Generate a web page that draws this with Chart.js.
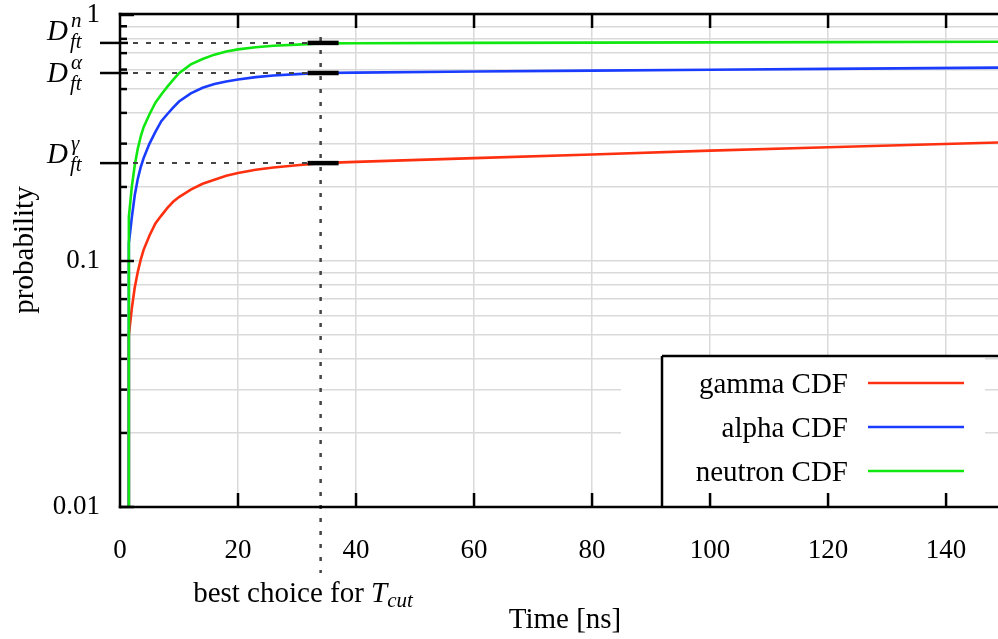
<!DOCTYPE html>
<html>
<head>
<meta charset="utf-8">
<script src="https://cdn.jsdelivr.net/npm/chart.js@4"></script>
<style>
  html, body { margin: 0; padding: 0; background: #fff; }
</style>
</head>
<body>
<canvas id="cdf" width="998" height="639"></canvas>
<script>
// time in ns, cumulative probabilities
const times = [1.45, 1.5, 2, 2.5, 3, 3.5, 4, 5, 6, 7, 8, 9, 10, 12, 14, 16, 18, 20, 23, 26, 30, 34, 40, 60, 80, 100, 120, 148.8];
const gammaCdf = [0.001, 0.05, 0.064, 0.078, 0.090, 0.101, 0.111, 0.127, 0.142, 0.153, 0.164, 0.174, 0.182, 0.195, 0.206, 0.214, 0.222, 0.228, 0.235, 0.240, 0.245, 0.250, 0.253, 0.262, 0.271, 0.281, 0.290, 0.303];
const alphaCdf = [0.001, 0.118, 0.15, 0.185, 0.215, 0.24, 0.262, 0.30, 0.335, 0.37, 0.395, 0.42, 0.445, 0.48, 0.506, 0.524, 0.537, 0.547, 0.559, 0.568, 0.575, 0.581, 0.583, 0.589, 0.594, 0.599, 0.604, 0.611];
const neutronCdf = [0.001, 0.151, 0.2, 0.245, 0.285, 0.32, 0.35, 0.395, 0.44, 0.475, 0.51, 0.545, 0.58, 0.63, 0.662, 0.69, 0.71, 0.725, 0.74, 0.75, 0.758, 0.767, 0.768, 0.770, 0.772, 0.774, 0.776, 0.779];

const seriesLabels = ["gamma CDF", "alpha CDF", "neutron CDF"];
const seriesColors = ["#ff3010", "#1a3cff", "#11e811"];

const xTicks = [0, 20, 40, 60, 80, 100, 120, 140];
const yGrid = [0.01, 0.02, 0.03, 0.04, 0.05, 0.06, 0.07, 0.08, 0.09,
               0.1, 0.2, 0.3, 0.4, 0.5, 0.6, 0.7, 0.8, 0.9, 1];
const yLabels = [0.01, 0.1, 1];

// best cut time and the detection fractions there
const tCut = 34;
const dftLevels = [0.77, 0.581, 0.25];
const dftSup = ["n", "\u03b1", "\u03b3"];

const SERIF = "'Liberation Serif', 'DejaVu Serif', serif";

function toPoints(vals) {
  return times.map((t, i) => ({ x: t, y: vals[i] }));
}

function line(ctx, x1, y1, x2, y2) {
  ctx.beginPath();
  ctx.moveTo(x1, y1);
  ctx.lineTo(x2, y2);
  ctx.stroke();
}

const decorations = {
  id: "decorations",
  beforeDatasetsDraw(chart) {
    // gaps in the grid round the key, as in the original
    const { ctx, chartArea: a } = chart;
    ctx.save();
    ctx.fillStyle = "#fff";
    ctx.fillRect(a.right - 377, a.bottom - 139, 41, 137);
    ctx.fillRect(a.right - 336, a.bottom - 151, 323, 149);
    ctx.restore();
  },
  afterDraw(chart) {
    const { ctx, chartArea: a, scales: { x, y } } = chart;
    const xc = x.getPixelForValue(tCut);
    ctx.save();

    // dashed guides to the D_ft levels
    ctx.strokeStyle = "#444";
    ctx.lineWidth = 2;
    ctx.setLineDash([5, 8]);
    dftLevels.forEach(v => {
      const py = y.getPixelForValue(v);
      line(ctx, a.left, py, xc, py);
    });
    ctx.setLineDash([4, 9]);
    ctx.lineWidth = 2.5;
    line(ctx, xc, y.getPixelForValue(dftLevels[0]) - 6, xc, a.bottom + 66);
    ctx.setLineDash([]);

    // short bars at the crossings
    ctx.strokeStyle = "#000";
    ctx.lineWidth = 4.5;
    dftLevels.forEach(v => {
      const py = y.getPixelForValue(v);
      line(ctx, xc - 13, py, xc + 18, py);
    });

    // frame (right side is cut off)
    ctx.lineWidth = 2.5;
    ctx.lineCap = "square";
    line(ctx, a.left, a.top - 1, a.right + 2, a.top - 1);
    line(ctx, a.left, a.top - 1, a.left, a.bottom);
    line(ctx, a.left, a.bottom, a.right + 2, a.bottom);
    ctx.lineCap = "butt";

    // inward ticks
    xTicks.slice(1).forEach(v => {
      const px = x.getPixelForValue(v);
      line(ctx, px, a.bottom, px, a.bottom - 14);
      line(ctx, px, a.top - 1, px, a.top + 13);
    });
    yGrid.forEach(v => {
      const py = y.getPixelForValue(v);
      const len = yLabels.includes(v) ? 14 : 7;
      line(ctx, a.left, py, a.left + len, py);
    });
    dftLevels.forEach(v => {
      const py = y.getPixelForValue(v);
      line(ctx, a.left - 20, py, a.left + 8, py);
    });

    // D_ft labels
    const baseShift = [-3, 9, 0];
    ctx.fillStyle = "#000";
    ctx.textBaseline = "alphabetic";
    dftLevels.forEach((v, i) => {
      const by = y.getPixelForValue(v) + baseShift[i];
      ctx.font = "italic 29px " + SERIF;
      ctx.textAlign = "left";
      ctx.fillText("D", 47, by);
      ctx.font = "italic 21px " + SERIF;
      ctx.fillText(dftSup[i], 71, by - 13);
      ctx.fillText("ft", 70, by + 8);
    });

    // key
    const kx = a.right - 336, ky = a.bottom - 151;
    ctx.lineWidth = 2.5;
    line(ctx, kx, ky, a.right + 2, ky);
    line(ctx, kx, ky, kx, a.bottom);
    ctx.font = "29px " + SERIF;
    ctx.textAlign = "right";
    seriesLabels.forEach((lab, i) => {
      const ry = ky + 27 + i * 44;
      ctx.fillStyle = "#000";
      ctx.fillText(lab, kx + 186, ry + 10);
      ctx.strokeStyle = seriesColors[i];
      line(ctx, kx + 206, ry, kx + 302, ry);
    });
    ctx.strokeStyle = "#000";

    // axis titles
    ctx.fillStyle = "#000";
    ctx.textAlign = "center";
    ctx.fillText("Time [ns]", 565, 628);
    ctx.save();
    ctx.translate(33, 250);
    ctx.rotate(-Math.PI / 2);
    ctx.fillText("probability", 0, 0);
    ctx.restore();

    // "best choice for T_cut"
    ctx.textAlign = "left";
    ctx.font = "29px " + SERIF;
    const w1 = ctx.measureText("best choice for ").width;
    ctx.font = "italic 29px " + SERIF;
    const w2 = ctx.measureText("T").width;
    ctx.font = "italic 21px " + SERIF;
    const w3 = ctx.measureText("cut").width;
    let sx = 303 - (w1 + w2 + w3) / 2;
    ctx.font = "29px " + SERIF;
    ctx.fillText("best choice for ", sx, 602);
    sx += w1;
    ctx.font = "italic 29px " + SERIF;
    ctx.fillText("T", sx, 602);
    sx += w2;
    ctx.font = "italic 21px " + SERIF;
    ctx.fillText("cut", sx, 607);

    ctx.restore();
  }
};

new Chart(document.getElementById("cdf"), {
  type: "line",
  data: {
    // later series sit on top, like gnuplot
    datasets: [gammaCdf, alphaCdf, neutronCdf].map((vals, i) => ({
      label: seriesLabels[i],
      data: toPoints(vals),
      borderColor: seriesColors[i],
      backgroundColor: seriesColors[i],
      order: 2 - i,
    })),
  },
  options: {
    responsive: false,
    animation: false,
    layout: { padding: { top: 15, right: 0, left: 0, bottom: 0 } },
    plugins: { legend: { display: false }, tooltip: { enabled: false } },
    elements: {
      point: { radius: 0 },
      line: { borderWidth: 2.6, tension: 0 },
    },
    scales: {
      x: {
        type: "linear",
        min: 0,
        max: 148.8,
        afterBuildTicks: s => { s.ticks = xTicks.map(v => ({ value: v })); },
        afterFit: s => {
          s.height = 132;
          s.paddingLeft = 0;
          s.paddingRight = 0;
        },
        grid: { color: "#dadada", lineWidth: 1.5, drawTicks: false },
        border: { display: false },
        ticks: {
          color: "#000",
          padding: 28,
          maxRotation: 0,
          autoSkip: false,
          font: { family: SERIF, size: 27 },
        },
      },
      y: {
        type: "logarithmic",
        min: 0.01,
        max: 1,
        afterBuildTicks: s => { s.ticks = yGrid.map(v => ({ value: v })); },
        afterFit: s => {
          s.width = 120;
          s.paddingTop = 0;
          s.paddingBottom = 0;
        },
        grid: { color: "#dadada", lineWidth: 1.5, drawTicks: false },
        border: { display: false },
        ticks: {
          color: "#000",
          padding: 20,
          autoSkip: false,
          callback: v => (yLabels.includes(v) ? String(v) : ""),
          font: { family: SERIF, size: 27 },
        },
      },
    },
  },
  plugins: [decorations],
});
</script>
</body>
</html>
